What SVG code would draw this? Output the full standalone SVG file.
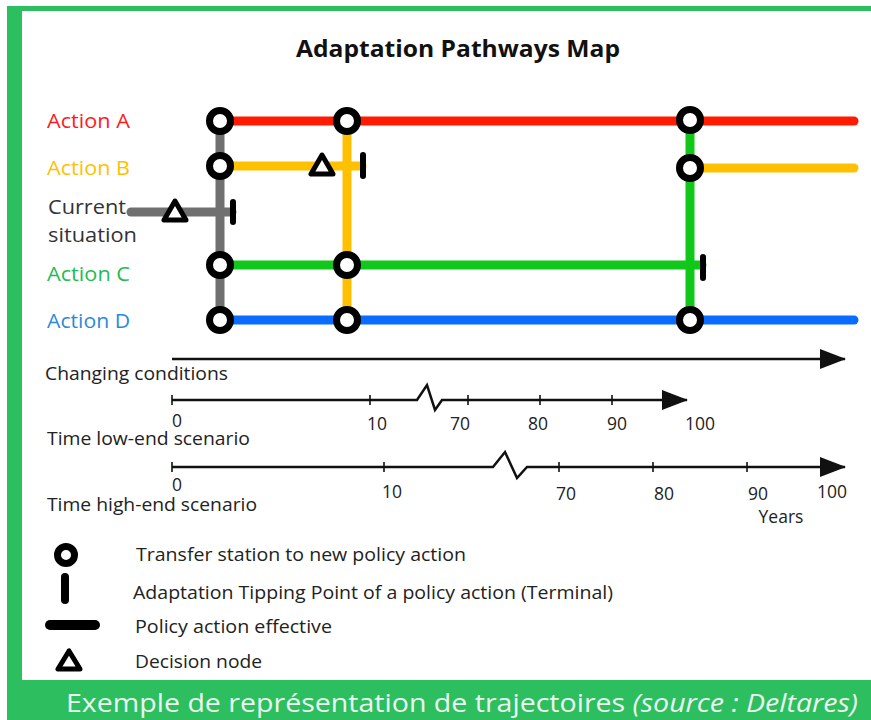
<svg xmlns="http://www.w3.org/2000/svg" width="871" height="720" viewBox="0 0 871 720">
  <style>
    .lbl { font-family: "Open Sans", "Liberation Sans", sans-serif; font-size: 19.5px; }
    .ax { font-family: "Open Sans", "Liberation Sans", sans-serif; font-size: 17.5px; fill: #222; }
    .leg { font-family: "Open Sans", "Liberation Sans", sans-serif; font-size: 17.5px; fill: #222; }
    .route { fill: none; stroke-width: 9; stroke-linecap: round; }
    .station { fill: #fff; stroke: #000; stroke-width: 7; }
    .term { stroke: #000; stroke-width: 6; stroke-linecap: round; }
    .dec { fill: #fff; stroke: #000; stroke-width: 5; stroke-linejoin: round; }
    .axis { fill: none; stroke: #111; stroke-width: 2.5; }
    .tick { stroke: #111; stroke-width: 1.6; }
  </style>
  <defs>
    <marker id="arr" viewBox="0 0 26 20" refX="25" refY="10" markerWidth="26" markerHeight="20" markerUnits="userSpaceOnUse" orient="auto">
      <path d="M0,0 L26,10 L0,20 Z" fill="#111"/>
    </marker>
  </defs>

  <!-- frame -->
  <rect x="0" y="0" width="871" height="720" fill="#fff"/>
  <rect x="7" y="6" width="864" height="5" fill="#2DBE60"/>
  <rect x="7" y="6" width="15" height="714" fill="#2DBE60"/>
  <rect x="7" y="680" width="864" height="40" fill="#2DBE60"/>

  <text x="296" y="57" textLength="324" lengthAdjust="spacingAndGlyphs" font-family="'Open Sans', 'Liberation Sans', sans-serif" font-size="23" font-weight="bold" fill="#111">Adaptation Pathways Map</text>

  <!-- row labels -->
  <g id="labels">
    <text class="lbl" x="47" y="128" textLength="83" lengthAdjust="spacingAndGlyphs" fill="#FF1A1A">Action A</text>
    <text class="lbl" x="47" y="175" textLength="83" lengthAdjust="spacingAndGlyphs" fill="#FFC000">Action B</text>
    <text class="lbl" x="48" y="214" textLength="78" lengthAdjust="spacingAndGlyphs" fill="#333">Current</text>
    <text class="lbl" x="48" y="242" textLength="89" lengthAdjust="spacingAndGlyphs" fill="#333">situation</text>
    <text class="lbl" x="47" y="281" textLength="83" lengthAdjust="spacingAndGlyphs" fill="#22BB55">Action C</text>
    <text class="lbl" x="47" y="328" textLength="83" lengthAdjust="spacingAndGlyphs" fill="#2A8AD8">Action D</text>
  </g>

  <!-- routes -->
  <g id="connectors">
    <line class="route" x1="220" y1="121" x2="220" y2="320" stroke="#707070"/>
    <line class="route" x1="131" y1="212" x2="232" y2="212" stroke="#707070"/>
    <line class="route" x1="347" y1="121" x2="347" y2="320" stroke="#FFC000"/>
    <line class="route" x1="690" y1="121" x2="690" y2="320" stroke="#11C81A"/>
    <line class="route" x1="220" y1="121" x2="854" y2="121" stroke="#FF1A00"/>
    <line class="route" x1="220" y1="166" x2="362" y2="166" stroke="#FFC000"/>
    <line class="route" x1="690" y1="168" x2="854" y2="168" stroke="#FFC000"/>
    <line class="route" x1="220" y1="265" x2="702" y2="265" stroke="#11C81A"/>
    <line class="route" x1="220" y1="320" x2="854" y2="320" stroke="#0A6CFF"/>
  </g>

  <!-- transfer stations -->
  <g id="st-a1"><circle class="station" cx="220" cy="121" r="10.5"/></g>
  <g id="st-b1"><circle class="station" cx="220" cy="166" r="10.5"/></g>
  <g id="st-c1"><circle class="station" cx="220" cy="265" r="10.5"/></g>
  <g id="st-d1"><circle class="station" cx="220" cy="320" r="10.5"/></g>
  <g id="st-a2"><circle class="station" cx="347" cy="121" r="10.5"/></g>
  <g id="st-c2"><circle class="station" cx="347" cy="265" r="10.5"/></g>
  <g id="st-d2"><circle class="station" cx="347" cy="320" r="10.5"/></g>
  <g id="st-a3"><circle class="station" cx="690" cy="120" r="10.5"/></g>
  <g id="st-b3"><circle class="station" cx="690" cy="168" r="10.5"/></g>
  <g id="st-d3"><circle class="station" cx="690" cy="320" r="10.5"/></g>

  <!-- tipping points -->
  <g id="tp-current"><line class="term" x1="233" y1="202" x2="233" y2="222"/></g>
  <g id="tp-b"><line class="term" x1="363" y1="155" x2="363" y2="176"/></g>
  <g id="tp-c"><line class="term" x1="703" y1="257" x2="703" y2="278"/></g>

  <!-- decision nodes -->
  <g id="dn-current"><polygon class="dec" points="175,201 164,220 186,220"/></g>
  <g id="dn-b"><polygon class="dec" points="322,155 311,174 333,174"/></g>

  <!-- axes -->
  <g id="axes">
    <line class="axis" x1="172" y1="359" x2="845" y2="359" marker-end="url(#arr)"/>
    <text class="ax" x="45" y="380" textLength="183" lengthAdjust="spacingAndGlyphs">Changing conditions</text>

    <polyline class="axis" points="172,400 417,400 427,385 435,410 442,400 687,400" marker-end="url(#arr)"/>
    <line class="tick" x1="172" y1="395" x2="172" y2="405"/>
    <line class="tick" x1="370" y1="395" x2="370" y2="405"/>
    <line class="tick" x1="468" y1="395" x2="468" y2="405"/>
    <line class="tick" x1="540" y1="395" x2="540" y2="405"/>
    <line class="tick" x1="612" y1="395" x2="612" y2="405"/>
    <text class="ax" x="177" y="427" text-anchor="middle">0</text>
    <text class="ax" x="377" y="430" text-anchor="middle">10</text>
    <text class="ax" x="460" y="430" text-anchor="middle">70</text>
    <text class="ax" x="538" y="430" text-anchor="middle">80</text>
    <text class="ax" x="617" y="430" text-anchor="middle">90</text>
    <text class="ax" x="700" y="430" text-anchor="middle">100</text>
    <text class="ax" x="47" y="445" textLength="203" lengthAdjust="spacingAndGlyphs">Time low-end scenario</text>

    <polyline class="axis" points="172,467 493,467 505,452 517,478 527,467 845,467" marker-end="url(#arr)"/>
    <line class="tick" x1="172" y1="462" x2="172" y2="472"/>
    <line class="tick" x1="384" y1="462" x2="384" y2="472"/>
    <line class="tick" x1="559" y1="462" x2="559" y2="472"/>
    <line class="tick" x1="653" y1="462" x2="653" y2="472"/>
    <line class="tick" x1="747" y1="462" x2="747" y2="472"/>
    <text class="ax" x="177" y="491" text-anchor="middle">0</text>
    <text class="ax" x="392" y="498" text-anchor="middle">10</text>
    <text class="ax" x="566" y="500" text-anchor="middle">70</text>
    <text class="ax" x="664" y="500" text-anchor="middle">80</text>
    <text class="ax" x="758" y="500" text-anchor="middle">90</text>
    <text class="ax" x="832" y="498" text-anchor="middle">100</text>
    <text class="ax" x="781" y="523" text-anchor="middle">Years</text>
    <text class="ax" x="47" y="511" textLength="210" lengthAdjust="spacingAndGlyphs">Time high-end scenario</text>
  </g>

  <!-- legend -->
  <g id="legend">
    <circle cx="66" cy="555" r="8.5" fill="#fff" stroke="#000" stroke-width="7"/>
    <text class="leg" x="136" y="561" textLength="330" lengthAdjust="spacingAndGlyphs">Transfer station to new policy action</text>
    <line x1="65" y1="577" x2="65" y2="600" stroke="#000" stroke-width="8" stroke-linecap="round"/>
    <text class="leg" x="133" y="599" textLength="480" lengthAdjust="spacingAndGlyphs">Adaptation Tipping Point of a policy action (Terminal)</text>
    <line x1="50" y1="625" x2="95" y2="625" stroke="#000" stroke-width="10" stroke-linecap="round"/>
    <text class="leg" x="135" y="633" textLength="197" lengthAdjust="spacingAndGlyphs">Policy action effective</text>
    <polygon points="69,651 58,669 80,669" fill="#fff" stroke="#000" stroke-width="5" stroke-linejoin="round"/>
    <text class="leg" x="135" y="668" textLength="127" lengthAdjust="spacingAndGlyphs">Decision node</text>
  </g>

  <text x="66" y="712" textLength="792" lengthAdjust="spacingAndGlyphs" font-family="'Open Sans', 'Liberation Sans', sans-serif" font-size="26" fill="#EAF7EE">Exemple de représentation de trajectoires <tspan font-style="italic">(source : Deltares)</tspan></text>
</svg>
